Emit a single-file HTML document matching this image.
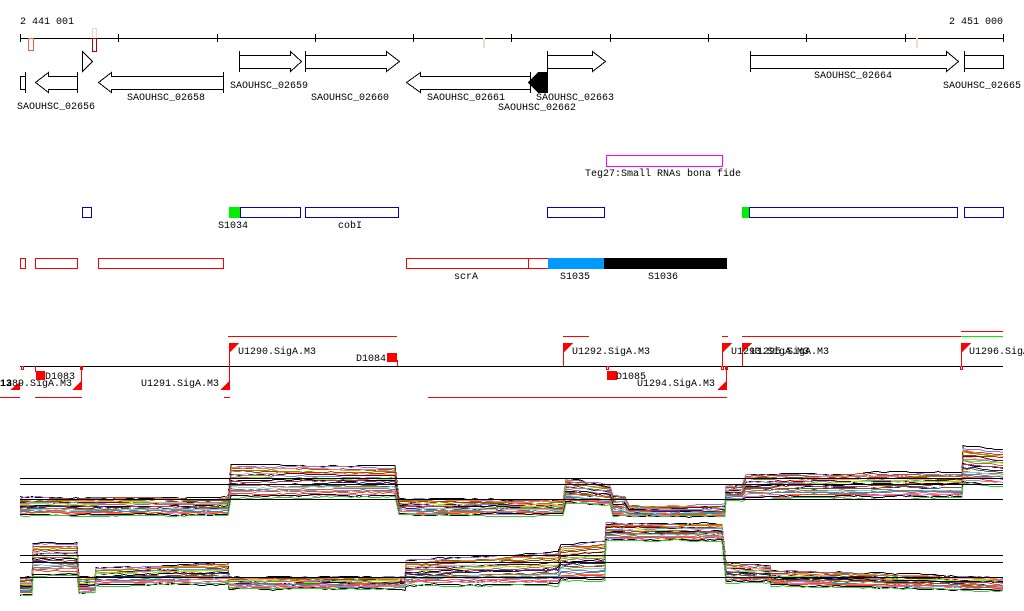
<!DOCTYPE html>
<html><head><meta charset="utf-8"><style>
html,body{margin:0;padding:0;background:#fff;width:1024px;height:611px;overflow:hidden}
svg{display:block}
text{font-family:"Liberation Mono",monospace;font-size:10px;fill:#000}
</style></head><body>
<svg id="s" width="1024" height="611" viewBox="0 0 1024 611" xmlns="http://www.w3.org/2000/svg" shape-rendering="crispEdges">
<text x="20" y="24">2 441 001</text>
<text x="1003" y="24" text-anchor="end">2 451 000</text>
<line x1="20" y1="38.5" x2="1003" y2="38.5" stroke="#000"/>
<g stroke="#000">
<line x1="20.5" y1="34" x2="20.5" y2="42"/><line x1="118.5" y1="34" x2="118.5" y2="42"/><line x1="217.5" y1="34" x2="217.5" y2="42"/><line x1="315.5" y1="34" x2="315.5" y2="42"/><line x1="413.5" y1="34" x2="413.5" y2="42"/><line x1="511.5" y1="34" x2="511.5" y2="42"/><line x1="610.5" y1="34" x2="610.5" y2="42"/><line x1="708.5" y1="34" x2="708.5" y2="42"/><line x1="806.5" y1="34" x2="806.5" y2="42"/><line x1="905.5" y1="34" x2="905.5" y2="42"/><line x1="1003.5" y1="34" x2="1003.5" y2="42"/>
</g>
<rect x="28.5" y="38.5" width="5" height="12" fill="none" stroke="#f06040"/>
<rect x="92.5" y="28.5" width="4" height="10" fill="none" stroke="#f8d0c0"/>
<rect x="92.5" y="38.5" width="4" height="13" fill="none" stroke="#b00000"/>
<rect x="483" y="38" width="2" height="10" fill="#f8d8c8"/>
<rect x="916" y="38" width="2" height="10" fill="#f8d8c8"/>
<g fill="#fff" stroke="#000">
<path d="M82.5,51.5 L92.5,61.5 L82.5,71.5 Z"/>
<path d="M239.5,55.5 H290.5 V51.5 L301.5,61.5 L290.5,71.5 V68.5 H239.5 Z"/><line x1="239.5" y1="51" x2="239.5" y2="72"/>
<path d="M305.5,55.5 H386.5 V51.5 L399.5,61.5 L386.5,71.5 V68.5 H305.5 Z"/><line x1="305.5" y1="51" x2="305.5" y2="72"/>
<path d="M547.5,55.5 H592.5 V51.5 L605.5,61.5 L592.5,71.5 V68.5 H547.5 Z"/><line x1="547.5" y1="51" x2="547.5" y2="72"/>
<path d="M750.5,55.5 H946.5 V51.5 L958.5,61.5 L946.5,71.5 V68.5 H750.5 Z"/><line x1="750.5" y1="51" x2="750.5" y2="72"/>
<rect x="964.5" y="55.5" width="39" height="13"/><line x1="964.5" y1="51" x2="964.5" y2="72"/>
<rect x="20.5" y="76.5" width="5" height="13"/><line x1="25.5" y1="72" x2="25.5" y2="93"/>
<path d="M77.5,76.5 H48.5 V72.5 L35.5,82.5 L48.5,92.5 V89.5 H77.5 Z"/><line x1="77.5" y1="72" x2="77.5" y2="93"/>
<path d="M223.5,76.5 H111.5 V72.5 L98.5,82.5 L111.5,92.5 V89.5 H223.5 Z"/><line x1="223.5" y1="72" x2="223.5" y2="93"/>
<path d="M530.5,76.5 H420.5 V72.5 L406.5,82.5 L420.5,92.5 V89.5 H530.5 Z"/><line x1="530.5" y1="72" x2="530.5" y2="93"/>
</g>
<path d="M548,72 V93 H538 L528,82.5 L538,72 Z" fill="#000"/>
<text x="56" y="109" text-anchor="middle">SAOUHSC_02656</text>
<text x="166" y="100" text-anchor="middle">SAOUHSC_02658</text>
<text x="269" y="88" text-anchor="middle">SAOUHSC_02659</text>
<text x="350" y="100" text-anchor="middle">SAOUHSC_02660</text>
<text x="466" y="100" text-anchor="middle">SAOUHSC_02661</text>
<text x="537" y="110" text-anchor="middle">SAOUHSC_02662</text>
<text x="575" y="100" text-anchor="middle">SAOUHSC_02663</text>
<text x="853" y="78" text-anchor="middle">SAOUHSC_02664</text>
<text x="982" y="88" text-anchor="middle">SAOUHSC_02665</text>
<rect x="606.5" y="155.5" width="116" height="11" fill="none" stroke="#f0f"/>
<text x="663" y="176" text-anchor="middle">Teg27:Small RNAs bona fide</text>
<g fill="none" stroke="#00c">
<rect x="82.5" y="207.5" width="9" height="10"/>
<rect x="240.5" y="207.5" width="60" height="10"/>
<rect x="305.5" y="207.5" width="93" height="10"/>
<rect x="547.5" y="207.5" width="57" height="10"/>
<rect x="749.5" y="207.5" width="208" height="10"/>
<rect x="964.5" y="207.5" width="39" height="10"/>
</g>
<rect x="229" y="207" width="11" height="11" fill="#0e0"/>
<rect x="742" y="207" width="7" height="11" fill="#0e0"/>
<text x="233" y="228" text-anchor="middle">S1034</text>
<text x="350" y="228" text-anchor="middle">cobI</text>
<g fill="none" stroke="#f00">
<rect x="20.5" y="258.5" width="5" height="10"/>
<rect x="35.5" y="258.5" width="42" height="10"/>
<rect x="98.5" y="258.5" width="125" height="10"/>
<rect x="406.5" y="258.5" width="122" height="10"/>
<rect x="528.5" y="258.5" width="20" height="10"/>
</g>
<rect x="548" y="258" width="56" height="11" fill="#09f"/>
<rect x="604" y="258" width="123" height="11" fill="#000"/>
<text x="466" y="279" text-anchor="middle">scrA</text>
<text x="575" y="279" text-anchor="middle">S1035</text>
<text x="663" y="279" text-anchor="middle">S1036</text>
<line x1="20" y1="366.5" x2="1003" y2="366.5" stroke="#000"/>
<g stroke="#f00" fill="none">
<line x1="228" y1="336.5" x2="397" y2="336.5"/>
<line x1="563" y1="336.5" x2="589" y2="336.5"/>
<line x1="722" y1="336.5" x2="728" y2="336.5"/>
<line x1="742" y1="336.5" x2="961" y2="336.5"/>
<line x1="961" y1="331.5" x2="1003" y2="331.5"/>
<line x1="0" y1="397.5" x2="20" y2="397.5"/>
<line x1="35" y1="397.5" x2="82" y2="397.5"/>
<line x1="224" y1="397.5" x2="230" y2="397.5"/>
<line x1="428" y1="397.5" x2="727" y2="397.5"/>
<line x1="229.5" y1="343" x2="229.5" y2="367"/>
<line x1="563.5" y1="343" x2="563.5" y2="366"/>
<line x1="722.5" y1="343" x2="722.5" y2="366"/>
<line x1="742.5" y1="343" x2="742.5" y2="366"/>
<line x1="961.5" y1="343" x2="961.5" y2="366"/>
<line x1="397.5" y1="360" x2="397.5" y2="366"/>
<line x1="81.5" y1="366" x2="81.5" y2="390"/>
<line x1="229.5" y1="366" x2="229.5" y2="390"/>
<line x1="726.5" y1="366" x2="726.5" y2="390"/>
<line x1="35.5" y1="366" x2="35.5" y2="372"/>
<rect x="21.5" y="366.5" width="2" height="3"/><rect x="80.5" y="366.5" width="2" height="3"/>
<rect x="606.5" y="366.5" width="2" height="3"/><rect x="721.5" y="366.5" width="2" height="3"/><rect x="725.5" y="366.5" width="2" height="3"/><rect x="960.5" y="366.5" width="2" height="3"/>
</g>
<line x1="961" y1="336.5" x2="1003" y2="336.5" stroke="#0e0"/>
<g fill="#f00">
<path d="M229,343 H239 L229,353 Z"/><path d="M563,343 H573 L563,353 Z"/><path d="M722,343 H732 L722,353 Z"/><path d="M742,343 H752 L742,353 Z"/><path d="M961,343 H971 L961,353 Z"/>
<path d="M72,390 H82 V380 Z"/><path d="M220,390 H230 V380 Z"/><path d="M717,390 H727 V380 Z"/><path d="M10,390 H20 V382 Z"/>
<rect x="387" y="353" width="10" height="9"/><rect x="36" y="371" width="9" height="9"/><rect x="607" y="371" width="10" height="9"/>
</g>
<text x="238" y="354">U1290.SigA.M3</text>
<text x="386" y="361" text-anchor="end">D1084</text>
<text x="45" y="379">D1083</text>
<text x="72" y="386" text-anchor="end">U1289.SigA.M3</text>
<text x="0" y="386" font-weight="bold">13</text>
<text x="219" y="386" text-anchor="end">U1291.SigA.M3</text>
<text x="572" y="354">U1292.SigA.M3</text>
<text x="616" y="379">D1085</text>
<text x="715" y="386" text-anchor="end">U1294.SigA.M3</text>
<text x="731" y="354">U1293.SigA.M3</text>
<text x="751" y="354">U1295.SigA.M3</text>
<text x="969" y="354">U1296.SigA.M3</text>
<g id="plots"></g>
<g stroke="#000">
<line x1="20" y1="478.5" x2="1003" y2="478.5"/><line x1="20" y1="484.5" x2="1003" y2="484.5"/><line x1="20" y1="499.5" x2="1003" y2="499.5"/>
<line x1="20" y1="555.5" x2="1003" y2="555.5"/><line x1="20" y1="562.5" x2="1003" y2="562.5"/><line x1="20" y1="577.5" x2="1003" y2="577.5"/>
</g>
</svg>
<script>
(function(){
var P1=[[20,230,497,497,515,515],[231,398,464,466,497,497],[399,565,498,500,515,515],[566,612,478,486,503,505],[613,628,495,495,516,516],[629,725,505,505,516,516],[726,745,485,485,500,500],[746,962,474,472,498,497],[963,1003,446,450,482,486]];
var P2=[[20,32,577,577,595,595],[33,78,543,543,575,575],[79,95,577,577,592,592],[96,228,568,562,585,583],[229,405,577,577,588,588],[406,560,560,552,585,585],[561,605,545,540,580,580],[606,725,523,523,540,540],[726,770,562,565,582,582],[771,1003,570,577,585,590]];
var cols=['#e8603c','#d2691e','#8b8b00','#ff6a6a','#6495ed','#32cd32','#b03060','#9370db','#87ceeb','#8b4513','#ff4500','#7cfc00','#c71585','#1a237e','#a0522d','#708090','#ffa07a','#da70d6','#cd5c5c','#e07020','#556b2f','#ff7f50','#4682b4','#800000','#e9967a','#6b8e23'];
var g=document.getElementById('plots'),ns='http://www.w3.org/2000/svg',seed=7;
function r(){seed=(seed*16807)%2147483647;return seed/2147483647;}
function draw(P,n){
 for(var i=0;i<n;i++){
  var f=i/(n-1),d='',nz=0;
  for(var k=0;k<P.length;k++){var s=P[k];
   for(var x=s[0];x<=s[1];x+=4){var t=(x-s[0])/Math.max(1,s[1]-s[0]);
    nz=nz*0.9+(r()-0.5)*1.2;
    var top=s[2]+(s[3]-s[2])*t,bot=s[4]+(s[5]-s[4])*t;
    var y=Math.round(top+f*(bot-top)+nz)+0.5;
    d+=(d?'L':'M')+x+','+y;}
  }
  var p=document.createElementNS(ns,'path');p.setAttribute('d',d);p.setAttribute('fill','none');
  p.setAttribute('stroke',i%11==0?'#000':cols[(i*7)%cols.length]);p.setAttribute('stroke-width','1');g.appendChild(p);
 }
}
draw(P1,24);draw(P2,24);
})();
</script>
</body></html>
